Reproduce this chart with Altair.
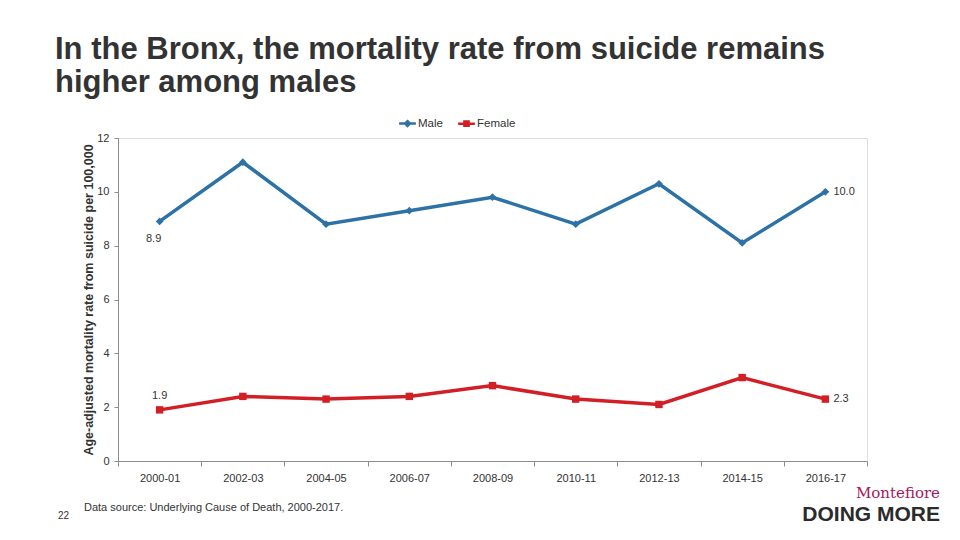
import altair as alt
import pandas as pd

periods = ["2000-01", "2002-03", "2004-05", "2006-07", "2008-09",
           "2010-11", "2012-13", "2014-15", "2016-17"]
male = [8.9, 11.1, 8.8, 9.3, 9.8, 8.8, 10.3, 8.1, 10.0]
female = [1.9, 2.4, 2.3, 2.4, 2.8, 2.3, 2.1, 3.1, 2.3]
series = ["Male", "Female"]
colors = ["#2D72A6", "#D21F26"]

rows = []
for s, vals in zip(series, [male, female]):
    for i, (p, v) in enumerate(zip(periods, vals)):
        pos = "start" if i == 0 else ("end" if i == len(periods) - 1 else "mid")
        rows.append({"period": p, "rate": v, "sex": s, "pos": pos})
df = pd.DataFrame(rows)

FONT = "Liberation Sans"

x_enc = alt.X("period:N", sort=periods, title=None,
              scale=alt.Scale(paddingInner=0, paddingOuter=0),
              axis=alt.Axis(labelAngle=0, tickBand="extent", labelPadding=6,
                            labelFontSize=11, labelColor="#333333",
                            domainColor="#8c8c8c", tickColor="#8c8c8c",
                            tickSize=5, grid=False, labelFont=FONT))
y_enc = alt.Y("rate:Q", title="Age-adjusted mortality rate from suicide per 100,000",
              scale=alt.Scale(domain=[0, 12]),
              axis=alt.Axis(values=[0, 2, 4, 6, 8, 10, 12], grid=False,
                            domainColor="#8c8c8c", tickColor="#8c8c8c", tickSize=4,
                            labelFontSize=11, labelColor="#333333", labelPadding=5,
                            titleFontSize=12.5, titleFontWeight="bold",
                            titleColor="#333333", titlePadding=1, labelFont=FONT,
                            titleFont=FONT))
color_scale = alt.Scale(domain=series, range=colors)

# Legend glyphs: a short line with the series marker in the middle
legend_shapes = [
    "M-1.6,0H1.6M0,-0.45L0.45,0L0,0.45L-0.45,0Z",
    "M-1.6,0H1.6M-0.4,-0.4H0.4V0.4H-0.4Z",
]
legend_cfg = alt.Legend(title=None, orient="none", legendX=283, legendY=-21,
                        direction="horizontal", labelFontSize=11.5, padding=0,
                        labelColor="#333333", labelFont=FONT,
                        symbolSize=110, columnPadding=10, labelOffset=4,
                        symbolStrokeWidth=2.5, symbolOpacity=1)

base = alt.Chart(df).encode(x=x_enc, y=y_enc)

lines = base.mark_line(strokeWidth=3.5).encode(
    color=alt.Color("sex:N", sort=series, scale=color_scale, legend=legend_cfg),
    detail="sex:N")

male_pts = base.mark_point(filled=True, size=60, opacity=1, shape="diamond").encode(
    color=alt.Color("sex:N", sort=series, scale=color_scale)
).transform_filter("datum.sex == 'Male'")
female_pts = base.mark_point(filled=True, size=55, opacity=1, shape="square").encode(
    color=alt.Color("sex:N", sort=series, scale=color_scale)
).transform_filter("datum.sex == 'Female'")

legend_layer = alt.Chart(pd.DataFrame({"sex": series})).mark_point(
    filled=True, opacity=0, size=110).encode(
    color=alt.Color("sex:N", sort=series, scale=color_scale, legend=legend_cfg),
    stroke=alt.Stroke("sex:N", sort=series, scale=color_scale, legend=legend_cfg),
    shape=alt.Shape("sex:N", sort=series,
                    scale=alt.Scale(domain=series, range=legend_shapes),
                    legend=legend_cfg))

lbl_style = dict(font=FONT, fontSize=11, color="#333333")
start_male = base.mark_text(dy=18, dx=-6, **lbl_style).encode(
    text=alt.Text("rate:Q", format=".1f")).transform_filter(
    "datum.pos == 'start' && datum.sex == 'Male'")
start_female = base.mark_text(dy=-14, **lbl_style).encode(
    text=alt.Text("rate:Q", format=".1f")).transform_filter(
    "datum.pos == 'start' && datum.sex == 'Female'")
end_lbls = base.mark_text(align="left", dx=8, **lbl_style).encode(
    text=alt.Text("rate:Q", format=".1f")).transform_filter("datum.pos == 'end'")

# Footer: source note, slide number and brand mark (positions relative to plot origin)
note = alt.Chart(pd.DataFrame({"t": ["Data source: Underlying Cause of Death, 2000-2017."]})).mark_text(
    align="left", baseline="middle", font=FONT, fontSize=11, color="#333333").encode(
    text="t:N", x=alt.value(-34), y=alt.value(370))
page = alt.Chart(pd.DataFrame({"t": ["22"]})).mark_text(
    align="left", baseline="middle", font=FONT, fontSize=10, color="#333333").encode(
    text="t:N", x=alt.value(-60), y=alt.value(378))
brand1 = alt.Chart(pd.DataFrame({"t": ["Montefiore"]})).mark_text(
    align="right", baseline="middle", font="DejaVu Serif", fontSize=15,
    color="#A3195B").encode(text="t:N", x=alt.value(822), y=alt.value(355))
brand2 = alt.Chart(pd.DataFrame({"t": ["DOING MORE"]})).mark_text(
    align="right", baseline="middle", font=FONT, fontSize=21, fontWeight="bold",
    color="#2b2b2b").encode(text="t:N", x=alt.value(822), y=alt.value(377))

chart = alt.layer(lines, male_pts, female_pts, legend_layer,
                  start_male, start_female, end_lbls,
                  note, page, brand1, brand2).properties(
    width=749, height=323,
    title=alt.TitleParams(
        text=["In the Bronx, the mortality rate from suicide remains",
              "higher among males"],
        anchor="start", frame="group", dx=-63, fontSize=31, fontWeight="bold",
        font=FONT, color="#333333", lineHeight=33, offset=18),
    autosize=alt.AutoSizeParams(type="none"),
    padding={"left": 118, "top": 138, "right": 93, "bottom": 79},
).configure_view(stroke=None).configure(background="white")

chart.save("out.html", embed_options={"renderer": "svg", "actions": False})
